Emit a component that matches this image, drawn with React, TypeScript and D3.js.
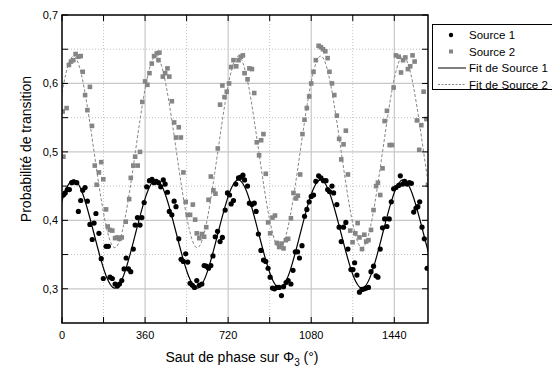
import React from 'react';
import * as d3 from 'd3';

// Measured points: [phase jump (deg), transition probability]
const source1: [number, number][] = [
  [6, 0.437], [14, 0.44], [23, 0.445], [32, 0.445], [42, 0.455], [52, 0.456], [64, 0.455], [71, 0.413],
  [81, 0.429], [90, 0.444], [100, 0.448], [110, 0.428], [121, 0.394], [131, 0.372], [139, 0.396], [147, 0.41],
  [160, 0.381], [170, 0.344], [179, 0.315], [191, 0.362], [201, 0.362], [208, 0.317], [218, 0.315], [230, 0.307],
  [240, 0.304], [249, 0.307], [259, 0.312], [269, 0.329], [278, 0.345], [288, 0.329], [298, 0.325], [309, 0.358],
  [317, 0.393], [327, 0.404], [338, 0.393], [346, 0.404], [356, 0.426], [367, 0.449], [379, 0.458], [390, 0.46],
  [399, 0.455], [408, 0.457], [418, 0.455], [428, 0.449], [439, 0.459], [447, 0.453], [457, 0.441], [465, 0.413],
  [476, 0.408], [486, 0.428], [494, 0.42], [506, 0.373], [516, 0.343], [526, 0.34], [536, 0.351], [545, 0.339],
  [555, 0.308], [565, 0.305], [574, 0.302], [584, 0.312], [595, 0.305], [606, 0.307], [616, 0.334], [625, 0.333],
  [635, 0.33], [645, 0.334], [654, 0.348], [664, 0.376], [674, 0.384], [685, 0.369], [695, 0.375], [707, 0.415],
  [717, 0.44], [726, 0.437], [733, 0.424], [743, 0.429], [753, 0.453], [765, 0.462], [775, 0.463], [784, 0.466],
  [791, 0.459], [804, 0.45], [812, 0.425], [823, 0.423], [833, 0.425], [841, 0.413], [851, 0.38], [862, 0.356],
  [873, 0.342], [883, 0.34], [893, 0.33], [902, 0.317], [912, 0.301], [921, 0.3], [931, 0.302], [941, 0.302],
  [951, 0.29], [960, 0.303], [971, 0.309], [980, 0.312], [992, 0.307], [1001, 0.327], [1011, 0.354], [1021, 0.354],
  [1029, 0.345], [1040, 0.363], [1051, 0.406], [1061, 0.416], [1071, 0.427], [1080, 0.435], [1090, 0.437], [1100, 0.457],
  [1112, 0.465], [1122, 0.462], [1133, 0.458], [1144, 0.458], [1151, 0.445], [1159, 0.442], [1170, 0.45], [1177, 0.44],
  [1191, 0.423], [1201, 0.39], [1210, 0.369], [1220, 0.39], [1230, 0.397], [1239, 0.358], [1252, 0.328], [1261, 0.328],
  [1268, 0.338], [1278, 0.32], [1289, 0.295], [1300, 0.299], [1310, 0.3], [1318, 0.301], [1328, 0.302], [1339, 0.325],
  [1350, 0.333], [1361, 0.319], [1369, 0.317], [1379, 0.358], [1389, 0.389], [1398, 0.402], [1408, 0.391], [1418, 0.402],
  [1427, 0.427], [1437, 0.446], [1447, 0.448], [1459, 0.451], [1466, 0.465], [1476, 0.453], [1485, 0.457], [1495, 0.453],
  [1505, 0.455], [1514, 0.454], [1524, 0.412], [1534, 0.418], [1542, 0.42], [1550, 0.427], [1560, 0.39], [1570, 0.373],
  [1582, 0.33],
];

const source2: [number, number][] = [
  [3, 0.559], [20, 0.564], [6, 0.493], [30, 0.627], [39, 0.632], [49, 0.634], [59, 0.643], [71, 0.639],
  [81, 0.64], [90, 0.617], [100, 0.583], [110, 0.561], [121, 0.595], [130, 0.538], [142, 0.48], [150, 0.452],
  [160, 0.47], [170, 0.485], [179, 0.46], [191, 0.416], [198, 0.391], [208, 0.386], [218, 0.385], [230, 0.374],
  [240, 0.375], [249, 0.373], [259, 0.375], [276, 0.398], [291, 0.431], [298, 0.462], [309, 0.48], [317, 0.493],
  [328, 0.48], [338, 0.5], [348, 0.573], [360, 0.603], [370, 0.598], [379, 0.615], [389, 0.629], [399, 0.64],
  [411, 0.644], [422, 0.645], [418, 0.634], [437, 0.61], [447, 0.615], [457, 0.622], [465, 0.61], [476, 0.574],
  [486, 0.543], [494, 0.521], [506, 0.536], [515, 0.521], [526, 0.47], [536, 0.427], [545, 0.408], [555, 0.408],
  [567, 0.423], [577, 0.401], [584, 0.381], [595, 0.374], [606, 0.38], [616, 0.376], [625, 0.39], [635, 0.43],
  [645, 0.464], [656, 0.444], [665, 0.439], [675, 0.505], [685, 0.569], [695, 0.597], [704, 0.58], [714, 0.588],
  [724, 0.6], [733, 0.624], [743, 0.634], [755, 0.625], [765, 0.634], [775, 0.639], [784, 0.641], [791, 0.615],
  [804, 0.606], [812, 0.622], [823, 0.621], [833, 0.586], [844, 0.514], [854, 0.495], [863, 0.517], [873, 0.526],
  [883, 0.468], [893, 0.397], [902, 0.381], [912, 0.404], [923, 0.407], [931, 0.367], [941, 0.361], [951, 0.366],
  [960, 0.359], [970, 0.371], [980, 0.373], [992, 0.403], [1003, 0.44], [1014, 0.432], [1022, 0.436], [1032, 0.467],
  [1042, 0.526], [1051, 0.547], [1061, 0.564], [1071, 0.581], [1080, 0.6], [1090, 0.617], [1100, 0.634], [1112, 0.655],
  [1122, 0.653], [1131, 0.65], [1141, 0.647], [1151, 0.637], [1159, 0.617], [1170, 0.6], [1180, 0.583], [1191, 0.553],
  [1201, 0.519], [1210, 0.489], [1220, 0.511], [1230, 0.531], [1239, 0.467], [1249, 0.385], [1259, 0.368], [1271, 0.381],
  [1281, 0.396], [1289, 0.375], [1300, 0.358], [1310, 0.379], [1318, 0.369], [1328, 0.371], [1339, 0.386], [1350, 0.415],
  [1361, 0.45], [1369, 0.455], [1379, 0.437], [1389, 0.476], [1398, 0.545], [1408, 0.56], [1420, 0.51], [1430, 0.51],
  [1437, 0.594], [1447, 0.641], [1459, 0.639], [1469, 0.616], [1478, 0.634], [1488, 0.638], [1499, 0.621], [1509, 0.625],
  [1519, 0.641], [1528, 0.632], [1538, 0.546], [1548, 0.503], [1557, 0.539], [1567, 0.588], [1579, 0.548], [1586, 0.452],
];

// fit curves: inflection / extremum points (clipped to the frame)
const fitPhase = [-39, 50, 139, 229, 318, 407, 496, 586, 675, 764, 853, 943, 1032, 1121, 1210, 1300, 1389, 1478, 1567, 1657, 1746];
const fit1Prob = [0.38, 0.459, 0.38, 0.301, 0.38, 0.459, 0.38, 0.301, 0.38, 0.459, 0.38, 0.301, 0.38, 0.459, 0.38, 0.301, 0.38, 0.459, 0.38, 0.301, 0.38];
const fit2Prob = [0.5, 0.64, 0.5, 0.36, 0.5, 0.64, 0.5, 0.36, 0.5, 0.64, 0.5, 0.36, 0.5, 0.64, 0.5, 0.36, 0.5, 0.64, 0.5, 0.36, 0.5];

const xMajor = [0, 360, 720, 1080, 1440];
const xMinor = [180, 540, 900, 1260];
const yMajor = [0.3, 0.4, 0.5, 0.6, 0.7];
const yMinor = [0.35, 0.45, 0.55, 0.65];

const legendLabels = ['Source 1', 'Source 2', 'Fit de Source 1', 'Fit de Source 2'];

const FONT = '"Liberation Sans", Arial, sans-serif';
const GRAY = '#858585';

const App = () => {
  const left = 62, right = 428, top = 15, bottom = 323;
  const x = d3.scaleLinear().domain([0, 1586]).range([left, right]);
  const y = d3.scaleLinear().domain([0.25, 0.7]).range([bottom, top]);

  const line = d3.line<[number, number]>()
    .x(d => x(d[0]))
    .y(d => y(d[1]))
    .curve(d3.curveNatural);

  const fit1 = line(fitPhase.map((p, i) => [p, fit1Prob[i]] as [number, number])) || '';
  const fit2 = line(fitPhase.map((p, i) => [p, fit2Prob[i]] as [number, number])) || '';

  const fmt = (v: number) => d3.format('.1f')(v).replace('.', ',');

  return (
    <svg width={552} height={369} style={{ position: 'absolute', left: 0, top: 0, fontFamily: FONT }}>
      <rect width={552} height={369} fill="#fff" />
      <defs>
        <clipPath id="plot">
          <rect x={left} y={top} width={right - left} height={bottom - top} />
        </clipPath>
      </defs>

      {/* grid */}
      {yMinor.map(v => (
        <line key={'ym' + v} x1={left} x2={right} y1={y(v)} y2={y(v)} stroke="#b0b0b0" strokeWidth={0.8} strokeDasharray="1,2" />
      ))}
      {xMinor.map(v => (
        <line key={'xm' + v} x1={x(v)} x2={x(v)} y1={top} y2={bottom} stroke="#b0b0b0" strokeWidth={0.8} strokeDasharray="1,2" />
      ))}
      {yMajor.slice(0, 4).map(v => (
        <line key={'yg' + v} x1={left} x2={right} y1={y(v)} y2={y(v)} stroke="#c8c8c8" strokeWidth={1.2} />
      ))}
      {xMajor.slice(1).map(v => (
        <line key={'xg' + v} x1={x(v)} x2={x(v)} y1={top} y2={bottom} stroke="#c8c8c8" strokeWidth={1.2} />
      ))}

      <g clipPath="url(#plot)">
        {source1.map((d, i) => (
          <circle key={'a' + i} cx={x(d[0])} cy={y(d[1])} r={2.6} fill="#000" />
        ))}
        {source2.map((d, i) => (
          <rect key={'b' + i} x={x(d[0]) - 2.3} y={y(d[1]) - 2.3} width={4.6} height={4.6} fill={GRAY} />
        ))}
        <path d={fit1} fill="none" stroke="#000" strokeWidth={1.2} />
        <path d={fit2} fill="none" stroke={GRAY} strokeWidth={1} strokeDasharray="3,2" />
      </g>

      {/* frame + inward ticks */}
      <rect x={left} y={top} width={right - left} height={bottom - top} fill="none" stroke="#000" strokeWidth={1.5} />
      {[...xMajor, ...xMinor].map(v => (
        <g key={'xt' + v} stroke="#000" strokeWidth={1}>
          <line x1={x(v)} x2={x(v)} y1={bottom} y2={bottom - 6} />
          <line x1={x(v)} x2={x(v)} y1={top} y2={top + 6} />
        </g>
      ))}
      {[...yMajor, ...yMinor].map(v => (
        <g key={'yt' + v} stroke="#000" strokeWidth={1}>
          <line x1={left} x2={left + 6} y1={y(v)} y2={y(v)} />
          <line x1={right} x2={right - 6} y1={y(v)} y2={y(v)} />
        </g>
      ))}

      {/* tick labels */}
      {xMajor.map(v => (
        <text key={'xl' + v} x={x(v)} y={339} fontSize={11} textAnchor="middle" fill="#000">{v}</text>
      ))}
      {yMajor.map(v => (
        <text key={'yl' + v} x={58} y={y(v) + 4} fontSize={11} textAnchor="end" fill="#000">{fmt(v)}</text>
      ))}

      {/* axis titles */}
      <text x={242} y={362} fontSize={14} textAnchor="middle" fill="#000">
        Saut de phase sur Φ<tspan fontSize={10} dy={3.5}>3</tspan><tspan dy={-3.5}> (°)</tspan>
      </text>
      <text transform="translate(31,149) rotate(-90)" fontSize={14} textAnchor="middle" fill="#000">
        Probabilité de transition
      </text>

      {/* legend */}
      <rect x={432.5} y={24.5} width={130} height={65} fill="#fff" stroke="#000" strokeWidth={1} />
      {legendLabels.map((label, i) => {
        const cy = 35 + i * 16.5;
        return (
          <g key={label}>
            {i === 0 && <circle cx={451} cy={cy} r={2.2} fill="#000" />}
            {i === 1 && <rect x={449} y={cy - 2} width={4} height={4} fill={GRAY} />}
            {i === 2 && <line x1={438} x2={466} y1={cy} y2={cy} stroke="#000" strokeWidth={1} />}
            {i === 3 && <line x1={438} x2={466} y1={cy} y2={cy} stroke={GRAY} strokeWidth={1} strokeDasharray="2,1.5" />}
            <text x={469} y={cy + 4} fontSize={11.5} fill="#000" textLength={label.length > 8 ? 79 : undefined}>{label}</text>
          </g>
        );
      })}
    </svg>
  );
};

export default App;
